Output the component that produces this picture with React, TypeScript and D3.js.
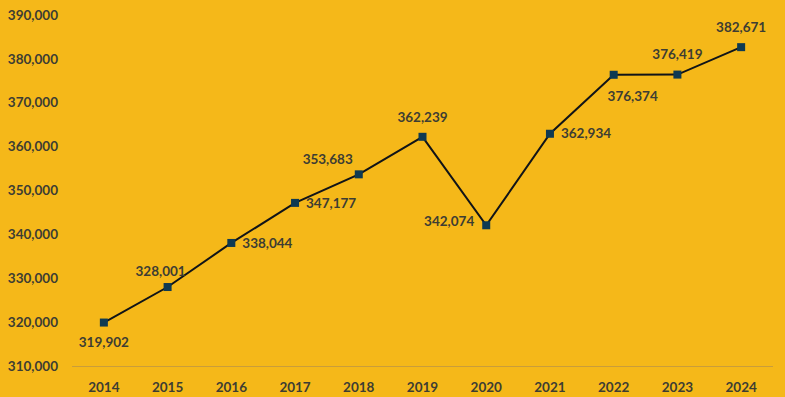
// App.tsx > line chart of yearly totals

import React, {useRef, useEffect} from 'react';
import * as d3 from 'd3';

// data
const years = ['2014', '2015', '2016', '2017', '2018', '2019', '2020', '2021', '2022', '2023', '2024'];
const totals = [319902, 328001, 338044, 347177, 353683, 362239, 342074, 362934, 376374, 376419, 382671];
const labelSpots = ['below', 'aboveLeft', 'right', 'right', 'upLeft', 'above', 'left', 'right', 'belowRight', 'above', 'above'];
const yTicks = [310000, 320000, 330000, 340000, 350000, 360000, 370000, 380000, 390000];

const svgWidth = 785;
const svgHeight = 397;
const bgColor = '#F5B819';
const textColor = '#3d3d33';
const font = 'Lato, "Open Sans", sans-serif';

export default function App(){
    const svgRef = useRef<SVGSVGElement>(null);

    useEffect(() => {
        const svg = d3.select(svgRef.current);
        svg.selectAll('*').remove();

        const xScale = d3.scaleBand<string>()
            .domain(years)
            .range([72, 773]);
        const yScale = d3.scaleLinear()
            .domain([310000, 390000])
            .range([366, 15]);
        const fmt = d3.format(',');

        svg.append('rect')
            .attr('width', svgWidth)
            .attr('height', svgHeight)
            .attr('fill', bgColor);

        // y tick labels (no gridlines)
        svg.append('g')
            .selectAll('text')
            .data(yTicks)
            .enter()
            .append('text')
            .attr('x', 58)
            .attr('y', (d) => yScale(d))
            .attr('dy', '0.35em')
            .attr('text-anchor', 'end')
            .attr('font-family', font)
            .attr('font-weight', 'bold')
            .attr('font-size', 13.5)
            .attr('fill', textColor)
            .text((d) => fmt(d));

        // x axis line
        svg.append('line')
            .attr('x1', 72)
            .attr('x2', 773)
            .attr('y1', yScale(310000) + 0.5)
            .attr('y2', yScale(310000) + 0.5)
            .attr('stroke', '#c99d3a')
            .attr('stroke-width', 1);

        const cx = (d: string) => (xScale(d) as number) + xScale.bandwidth() / 2;

        // x labels
        svg.append('g')
            .selectAll('text')
            .data(years)
            .enter()
            .append('text')
            .attr('x', (d) => cx(d))
            .attr('y', 387)
            .attr('dy', '0.35em')
            .attr('text-anchor', 'middle')
            .attr('font-family', font)
            .attr('font-weight', 'bold')
            .attr('font-size', 13.5)
            .attr('fill', textColor)
            .text((d) => d);

        const points = years.map((y, i) => ({year: y, value: totals[i], spot: labelSpots[i]}));

        const line = d3.line<{year: string, value: number}>()
            .x((d) => cx(d.year))
            .y((d) => yScale(d.value));

        svg.append('path')
            .datum(points)
            .attr('d', line)
            .attr('fill', 'none')
            .attr('stroke', '#111418')
            .attr('stroke-width', 2);

        svg.append('g')
            .selectAll('rect')
            .data(points)
            .enter()
            .append('rect')
            .attr('x', (d) => cx(d.year) - 4)
            .attr('y', (d) => yScale(d.value) - 4)
            .attr('width', 8)
            .attr('height', 8)
            .attr('fill', '#0f3a52');

        // data labels, offset by placement
        const offsets: {[k: string]: [number, number, string]} = {
            below: [0, 20, 'middle'],
            above: [0, -20, 'middle'],
            aboveLeft: [-7, -16, 'middle'],
            right: [11, 0, 'start'],
            left: [-12, -4, 'end'],
            upLeft: [-6, -15, 'end'],
            belowRight: [19, 21, 'middle'],
        };

        svg.append('g')
            .selectAll('text')
            .data(points)
            .enter()
            .append('text')
            .attr('x', (d) => cx(d.year) + offsets[d.spot][0])
            .attr('y', (d) => yScale(d.value) + offsets[d.spot][1])
            .attr('dy', '0.35em')
            .attr('text-anchor', (d) => offsets[d.spot][2])
            .attr('font-family', font)
            .attr('font-weight', 'bold')
            .attr('font-size', 13.5)
            .attr('fill', textColor)
            .text((d) => fmt(d.value));
    }, []);

    return(
        <svg ref={svgRef} width={svgWidth} height={svgHeight}
            style={{position: 'absolute', left: 0, top: 0, display: 'block'}}></svg>
    )
}
